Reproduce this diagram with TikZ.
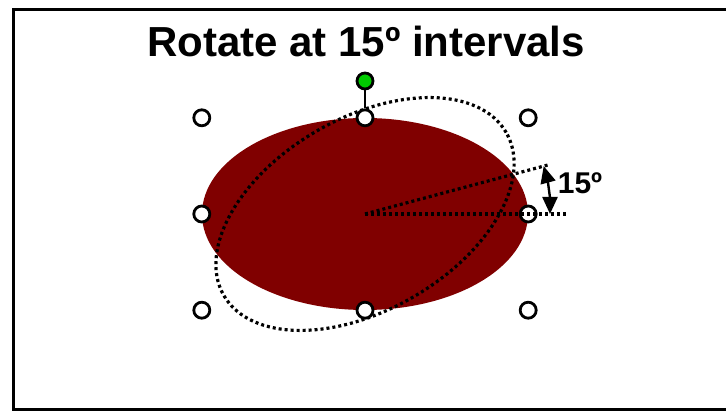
\documentclass[tikz,border=0pt]{standalone}
\usepackage{fontspec}
\setmainfont{Liberation Sans}
\usepackage{xcolor}
\usetikzlibrary{shapes.geometric, positioning, arrows.meta, calc}
\definecolor{ovalred}{RGB}{128,0,0}
\definecolor{handlegreen}{RGB}{0,204,0}

\begin{document}
\begin{tikzpicture}[
        x=1pt, y=1pt,
        >={Triangle[length=17pt, width=15pt]}, % Sets arrow style
        handle/.style={draw, circle, line width=2.8pt, fill=white, minimum size=16pt, inner sep=0pt},
        rothandle/.style={handle, fill=handlegreen},
        dotline/.style={line width=3.2pt, dash pattern=on 3pt off 3pt},
        oval/.style={ellipse, fill=ovalred, minimum width=326pt, minimum height=192pt, inner sep=0pt}
    ]

    \useasboundingbox (0,0) rectangle (726,411);

    % --- Frame (right side runs off the page) ---
    \draw[line width=3pt] (760,401) -- (13.5,401) -- (13.5,1.5) -- (760,1.5);

    % --- Title ---
    \node[anchor=base, font=\bfseries\fontsize{42}{48}\selectfont] (title) at (366,354) {Rotate at 15º intervals};

    % --- Shape and its rotated outline ---
    \node[oval] (shape) at (365,197) {};
    \draw[dotline, rotate around={30:(shape.center)}] (shape.center) ellipse [x radius=163pt, y radius=96pt];

    % --- Selection handles ---
    \node[handle] (hN) at (shape.north) {};
    \node[handle] (hS) at (shape.south) {};
    \node[handle] (hE) at (shape.east) {};
    \node[handle] (hW) at (shape.west) {};
    \node[handle] (hNW) at (shape.west |- shape.north) {};
    \node[handle] (hNE) at (shape.east |- shape.north) {};
    \node[handle] (hSW) at (shape.west |- shape.south) {};
    \node[handle] (hSE) at (shape.east |- shape.south) {};

    % --- Rotation handle ---
    \node[rothandle] (hRot) at (365,330) {};
    \draw[line width=2.6pt] (hRot) -- (hN);

    % --- Angle lines ---
    \coordinate (zeroEnd) at ($(shape.center)+(201,0)$);
    \coordinate (stepEnd) at ($(shape.center)+(15:190)$);
    \draw[dotline] (shape.center) -- (zeroEnd);
    \draw[dotline] (shape.center) -- (stepEnd);

    % --- Angle marker ---
    \draw[line width=2.4pt, <->] ($(shape.center)+(15:185)$) arc [start angle=15, end angle=0, radius=185pt];
    \node[font=\bfseries\fontsize{30}{36}\selectfont] (angle) at (580,228) {15º};

\end{tikzpicture}
\end{document}
